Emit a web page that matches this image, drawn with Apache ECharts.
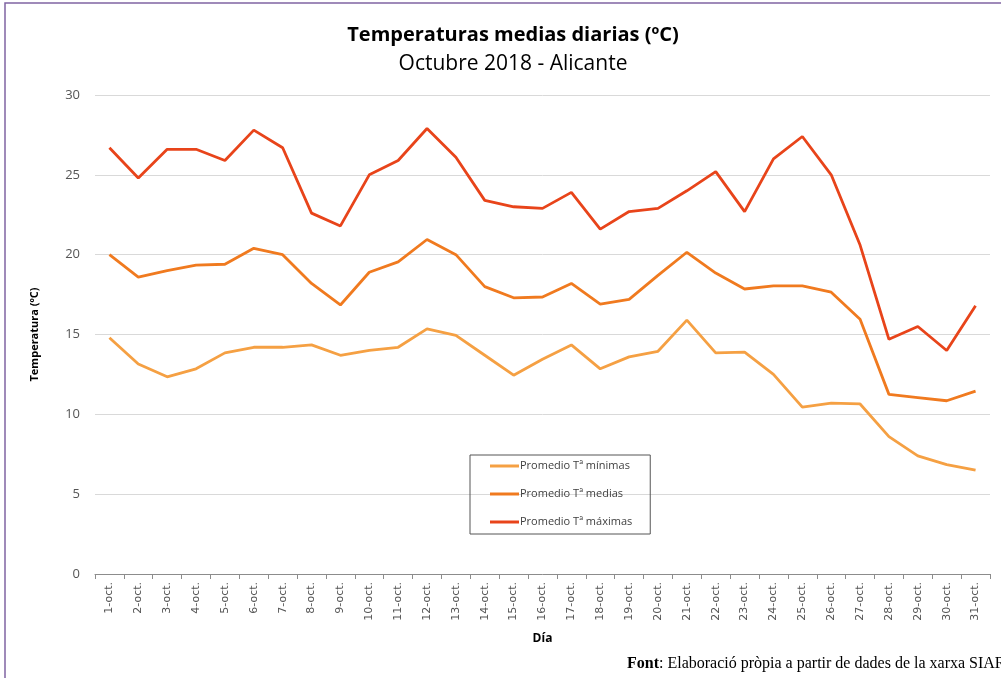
<!DOCTYPE html>
<html>
<head>
<meta charset="utf-8">
<script src="https://cdn.jsdelivr.net/npm/echarts@6/dist/echarts.min.js"></script>
<style>
  html, body { margin: 0; padding: 0; background: #fff; }
  #chart { width: 1001px; height: 678px; }
</style>
</head>
<body>
<div id="chart"></div>
<script>
const days = [];
for (let d = 1; d <= 31; d++) days.push(d + "-oct.");

const tMin = [14.8, 13.15, 12.35, 12.85, 13.85, 14.2, 14.2, 14.35, 13.7, 14.0, 14.2, 15.35, 14.95, 13.7, 12.45, 13.45,
  14.35, 12.85, 13.6, 13.95, 15.9, 13.85, 13.9, 12.5, 10.45, 10.7, 10.65, 8.6, 7.4, 6.85, 6.5];
const tMed = [20.0, 18.6, 19.0, 19.35, 19.4, 20.4, 20.0, 18.2, 16.85, 18.9, 19.55, 20.95, 20.0, 18.0, 17.3, 17.35,
  18.2, 16.9, 17.2, 18.7, 20.15, 18.85, 17.85, 18.05, 18.05, 17.65, 15.95, 11.25, 11.05, 10.85, 11.45];
const tMax = [26.7, 24.8, 26.6, 26.6, 25.9, 27.8, 26.7, 22.6, 21.8, 25.0, 25.9, 27.9, 26.1, 23.4, 23.0, 22.9,
  23.9, 21.6, 22.7, 22.9, 24.0, 25.2, 22.7, 26.0, 27.4, 25.0, 20.6, 14.7, 15.5, 14.0, 16.8];

const seriesNames = ["Promedio Tª mínimas", "Promedio Tª medias", "Promedio Tª máximas"];
const colors = ["#f5a043", "#f07a1f", "#e8441a"];

const chart = echarts.init(document.getElementById("chart"));
const font = "'Open Sans', sans-serif";

chart.setOption({
  animation: false,
  textStyle: { fontFamily: font },
  title: [
    {
      text: "Temperaturas medias diarias (ºC)",
      left: 508,
      top: 20,
      textAlign: "center",
      textStyle: { fontSize: 20, fontWeight: "bold", color: "#000", fontFamily: font }
    },
    {
      text: "Octubre 2018 - Alicante",
      left: 508,
      top: 49,
      textAlign: "center",
      textStyle: { fontSize: 21, fontWeight: "normal", color: "#000", fontFamily: font }
    }
  ],
  legend: {
    orient: "vertical",
    left: 470,
    top: 455,
    itemWidth: 29,
    itemHeight: 3,
    itemGap: 14,
    padding: [4, 18, 5, 20],
    borderColor: "#555",
    borderWidth: 1,
    icon: "rect",
    data: seriesNames,
    textStyle: { fontSize: 11, color: "#404040", lineHeight: 14, padding: [0, 0, 0, -4] }
  },
  grid: { left: 95, right: 11, top: 95, bottom: 104 },
  xAxis: {
    type: "category",
    data: days,
    name: "Día",
    nameLocation: "middle",
    nameGap: 59,
    nameTextStyle: { fontWeight: "bold", fontSize: 12, color: "#000" },
    axisLine: { lineStyle: { color: "#8c8c8c", width: 1 } },
    axisTick: { show: true, length: 5, lineStyle: { color: "#8c8c8c" } },
    axisLabel: { rotate: 90, fontSize: 11, color: "#555", margin: 8, fontFamily: "'DejaVu Sans', sans-serif" }
  },
  yAxis: {
    type: "value",
    min: 0,
    max: 30,
    interval: 5,
    name: "Temperatura (ºC)",
    nameLocation: "middle",
    nameGap: 55,
    nameTextStyle: { fontWeight: "bold", fontSize: 11, color: "#000" },
    axisLine: { show: false },
    axisTick: { show: false },
    axisLabel: { fontSize: 13, color: "#555", margin: 15 },
    splitLine: { lineStyle: { color: "#d9d9d9", width: 1 } }
  },
  series: [
    { name: seriesNames[0], type: "line", data: tMin, showSymbol: false, lineStyle: { width: 2.8, color: colors[0] }, itemStyle: { color: colors[0] } },
    { name: seriesNames[1], type: "line", data: tMed, showSymbol: false, lineStyle: { width: 2.8, color: colors[1] }, itemStyle: { color: colors[1] } },
    { name: seriesNames[2], type: "line", data: tMax, showSymbol: false, lineStyle: { width: 2.8, color: colors[2] }, itemStyle: { color: colors[2] } }
  ],
  graphic: [
    { type: "rect", shape: { x: 5, y: 3, width: 1010, height: 700 }, style: { fill: "none", stroke: "#8064a2", lineWidth: 1.5 }, silent: true },
    {
      type: "text",
      left: 627,
      top: 656,
      style: {
        text: "{b|Font}: Elaboració pròpia a partir de dades de la xarxa SIAR",
        font: "16px 'Liberation Serif', serif",
        fill: "#000",
        rich: { b: { fontWeight: "bold", fontSize: 16, fontFamily: "'Liberation Serif', serif" } }
      }
    }
  ]
});

window.addEventListener("resize", function () {
  chart.resize();
});
</script>
</body>
</html>
